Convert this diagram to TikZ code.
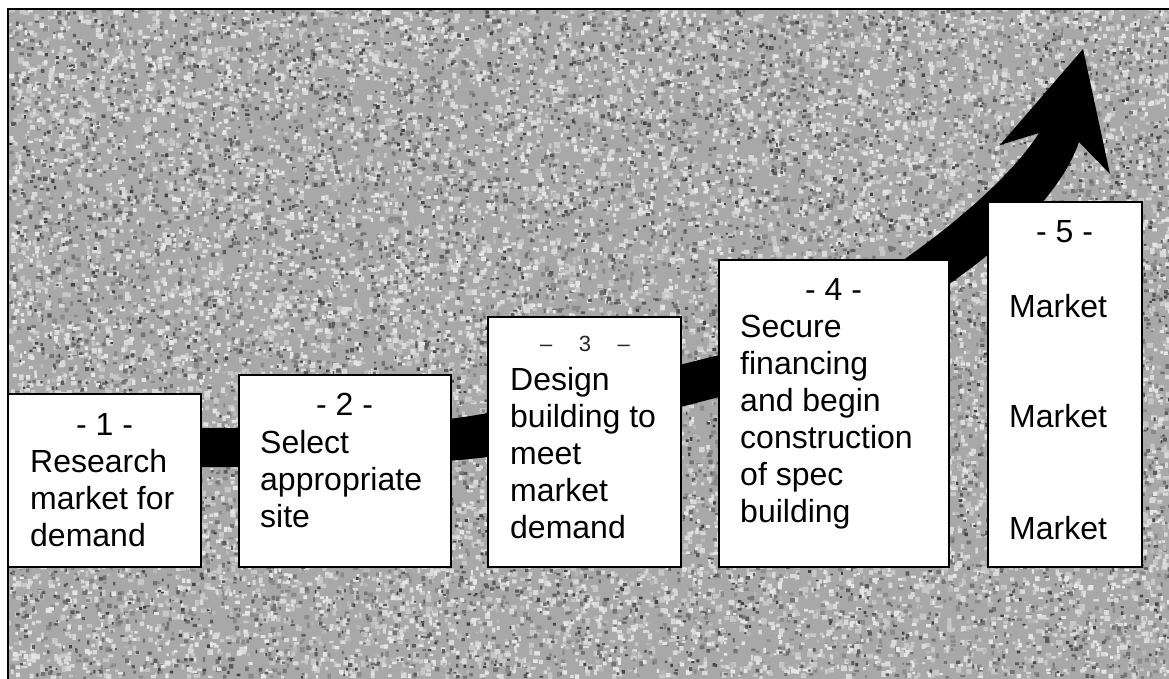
\documentclass[tikz,border=0pt]{standalone}
\usepackage{fontspec}
\setmainfont{Liberation Sans}
\definecolor{granitebase}{gray}{0.66}
\newcount\grn
\newdimen\grx \newdimen\gry \newdimen\grs \newdimen\grt
% #1 gray level, #2 count, #3 min size, #4 size range
\newcommand\grspecks[4]{%
  \begin{pgfscope}%
  \definecolor{spk}{gray}{#1}\pgfsetfillcolor{spk}%
  \grn=0
  \loop
    \pgfmathrnd \grx=\pgfmathresult pt \grx=1161\grx \advance\grx by 8pt
    \pgfmathrnd \gry=\pgfmathresult pt \gry=-670\gry \advance\gry by -9pt
    \pgfmathrnd \grs=\pgfmathresult pt \grs=#4\grs \advance\grs by #3pt
    \pgfmathrnd \grt=\pgfmathresult pt \grt=#4\grt \advance\grt by #3pt
    \pgfpathrectangle{\pgfqpoint{\grx}{\gry}}{\pgfqpoint{\grs}{\grt}}%
    \advance\grn by 1
    \ifnum\numexpr\grn-(\grn/40)*40\relax=0 \pgfusepath{fill}\fi
  \ifnum\grn<#2 \repeat
  \pgfusepath{fill}%
  \end{pgfscope}}
\begin{document}
\begin{tikzpicture}[x=1pt,y=-1pt,
  box/.style={draw=black,line width=1.6pt,fill=white,inner sep=0pt},
  head/.style={font=\fontsize{32}{38}\selectfont,inner sep=0pt,anchor=base},
  headthin/.style={font=\fontsize{22}{26}\selectfont,inner sep=0pt,anchor=base,text=black!85},
  txt/.style={font=\fontsize{32}{38}\selectfont,inner sep=0pt,anchor=base west}]
\useasboundingbox (0,0) rectangle (1169,679);
\fill[white] (0,0) rectangle (1169,679);
% granite texture
\begin{scope}
\clip (8,9) rectangle (1169,679);
\fill[granitebase] (8,9) rectangle (1169,679);
\pgfmathsetseed{4711}
\grspecks{0.78}{4600}{2.5}{4.0}
\grspecks{0.54}{3000}{2.0}{3.5}
\grspecks{0.85}{4600}{2.2}{3.8}
\grspecks{0.45}{2800}{1.8}{3.0}
\grspecks{0.90}{3200}{2.0}{3.0}
\grspecks{0.36}{2000}{1.6}{2.8}
\grspecks{0.72}{1500}{2.0}{3.0}
\grspecks{0.27}{1200}{1.5}{2.2}
\end{scope}
% frame
\draw[black,line width=2pt] (8,679) -- (8,9) -- (1169,9);
% curved arrow
\fill[black] (100,428) -- (239,428) .. controls (350,428) and (430,424) .. (488,413)
  -- (719,355) .. controls (819,329) and (989,212) .. (1039,133)
  -- (1000,145) -- (1083,49) -- (1110,174) -- (1079,142)
  .. controls (1040,255) and (819,371) .. (719,397)
  -- (488,457) .. controls (440,463) and (350,467) .. (239,467) -- (100,467) -- cycle;
% boxes
\node[box,minimum width=193pt,minimum height=173pt] (b1) at (104.5,480.5) {};
\node[box,minimum width=212pt,minimum height=192pt] (b2) at (345,471) {};
\node[box,minimum width=193pt,minimum height=250pt] (b3) at (584.5,442) {};
\node[box,minimum width=230pt,minimum height=307pt] (b4) at (834,413.5) {};
\node[box,minimum width=154pt,minimum height=365pt] (b5) at (1065,384.5) {};
% headings
\node[head] (h1) at (104.5,435) {- 1 -};
\node[head] (h2) at (344.5,415) {- 2 -};
\node[headthin] (h3) at (585,351) {–\hspace{26.5pt}3\hspace{26.5pt}–};
\node[head] (h4) at (833.5,300) {- 4 -};
\node[head] (h5) at (1064.5,242) {- 5 -};
% texts
\foreach \t [count=\k from 0] in {Research,market for,demand}
  \node[txt] (ta\k) at (30,{472+37*\k}) {\t};
\foreach \t [count=\k from 0] in {Select,appropriate,site}
  \node[txt] (tb\k) at (260,{453+37*\k}) {\t};
\foreach \t [count=\k from 0] in {Design,building to,meet,market,demand}
  \node[txt] (tc\k) at (510,{390+37*\k}) {\t};
\foreach \t [count=\k from 0] in {Secure,financing,and begin,construction,of spec,building}
  \node[txt] (td\k) at (740,{337+37*\k}) {\t};
\node[txt] (te0) at (1009,317) {Market};
\node[txt] (te1) at (1009,427) {Market};
\node[txt] (te2) at (1009,539) {Market};
\end{tikzpicture}
\end{document}
